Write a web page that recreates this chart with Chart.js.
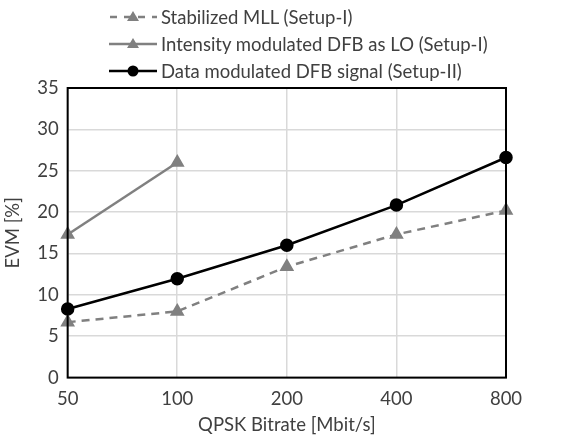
<!DOCTYPE html>
<html lang="en">
<head>
    <meta charset="UTF-8">
    <title>EVM vs QPSK Bitrate</title>
    <script src="https://cdn.jsdelivr.net/npm/chart.js"></script>
    <style>
        body { margin: 0; background: #fff; font-family: Lato, sans-serif; }
        #wrap { position: relative; width: 573px; height: 439px; }
        #legend { position: absolute; left: 108px; top: 3px; color: #404040; font-size: 18.5px; }
        .item { display: flex; align-items: center; height: 27px; }
        .item svg { margin-right: 3px; }
    </style>
</head>
<body>
    <div id="wrap">
        <canvas id="evmChart" width="573" height="439"></canvas>
        <div id="legend"></div>
    </div>

    <script>
        // data
        const bitrates = ['50', '100', '200', '400', '800'];
        const stabilizedMLL = [6.7, 8.0, 13.4, 17.3, 20.2];
        const intensityDFB = [17.3, 26.0, null, null, null];
        const dataDFB = [8.3, 11.95, 16.0, 20.85, 26.6];
        const yTicks = [0, 5, 10, 15, 20, 25, 30, 35];

        const seriesNames = [
            'Stabilized MLL (Setup-I)',
            'Intensity modulated DFB as LO (Setup-I)',
            'Data modulated DFB signal (Setup-II)'
        ];

        // simple html legend, one item per line
        const legendSvgs = [
            '<svg width="50" height="14"><line x1="1" y1="7" x2="49" y2="7" stroke="#808080" stroke-width="2.5" stroke-dasharray="7,7" stroke-dashoffset="-1"/><polygon points="25,1 31,11 19,11" fill="#808080"/></svg>',
            '<svg width="50" height="14"><line x1="1" y1="7" x2="49" y2="7" stroke="#808080" stroke-width="2.5"/><polygon points="25,1 31,11 19,11" fill="#808080"/></svg>',
            '<svg width="50" height="14"><line x1="1" y1="7" x2="49" y2="7" stroke="#000" stroke-width="2.5"/><circle cx="25" cy="7" r="5.5" fill="#000"/></svg>'
        ];
        document.getElementById('legend').innerHTML = seriesNames
            .map((n, i) => `<div class="item">${legendSvgs[i]}<span>${n}</span></div>`)
            .join('');

        // black frame round the plot area
        const frame = {
            id: 'frame',
            afterDatasetsDraw(chart) {
                const a = chart.chartArea;
                const c = chart.ctx;
                c.save();
                c.strokeStyle = '#000';
                c.lineWidth = 2;
                c.strokeRect(a.left, a.top, a.right - a.left, a.bottom - a.top);
                c.restore();
            }
        };

        const tickFont = { family: 'Lato', size: 18.5 };

        new Chart(document.getElementById('evmChart'), {
            type: 'line',
            data: {
                labels: bitrates,
                datasets: [
                    {
                        label: seriesNames[0],
                        data: stabilizedMLL,
                        borderColor: '#808080',
                        backgroundColor: '#808080',
                        borderWidth: 2.5,
                        borderDash: [8, 6],
                        pointStyle: 'triangle',
                        pointRadius: 6,
                        fill: false
                    },
                    {
                        label: seriesNames[1],
                        data: intensityDFB,
                        borderColor: '#808080',
                        backgroundColor: '#808080',
                        borderWidth: 2.5,
                        pointStyle: 'triangle',
                        pointRadius: 6,
                        fill: false
                    },
                    {
                        label: seriesNames[2],
                        data: dataDFB,
                        borderColor: '#000',
                        backgroundColor: '#000',
                        borderWidth: 2.5,
                        pointStyle: 'circle',
                        pointRadius: 5.5,
                        fill: false
                    }
                ]
            },
            options: {
                responsive: false,
                animation: false,
                layout: { padding: { top: 88, right: 67, left: 2, bottom: 3 } },
                plugins: {
                    legend: { display: false },
                    tooltip: { enabled: false }
                },
                scales: {
                    x: {
                        offset: false,
                        grid: { color: '#d9d9d9', lineWidth: 1.5, drawTicks: false },
                        border: { display: false },
                        ticks: { color: '#404040', font: tickFont, padding: 10 },
                        title: {
                            display: true,
                            text: 'QPSK Bitrate [Mbit/s]',
                            color: '#404040',
                            font: tickFont,
                            padding: { top: -6, bottom: 0 }
                        }
                    },
                    y: {
                        min: 0,
                        max: 35,
                        afterBuildTicks: axis => { axis.ticks = yTicks.map(v => ({ value: v })); },
                        grid: { color: '#d9d9d9', lineWidth: 1.5, drawTicks: false },
                        border: { display: false },
                        ticks: { color: '#404040', font: tickFont, padding: 9 },
                        title: {
                            display: true,
                            text: 'EVM [%]',
                            color: '#404040',
                            font: tickFont,
                            padding: { top: 0, bottom: 4 }
                        }
                    }
                }
            },
            plugins: [frame]
        });
    </script>
</body>
</html>
